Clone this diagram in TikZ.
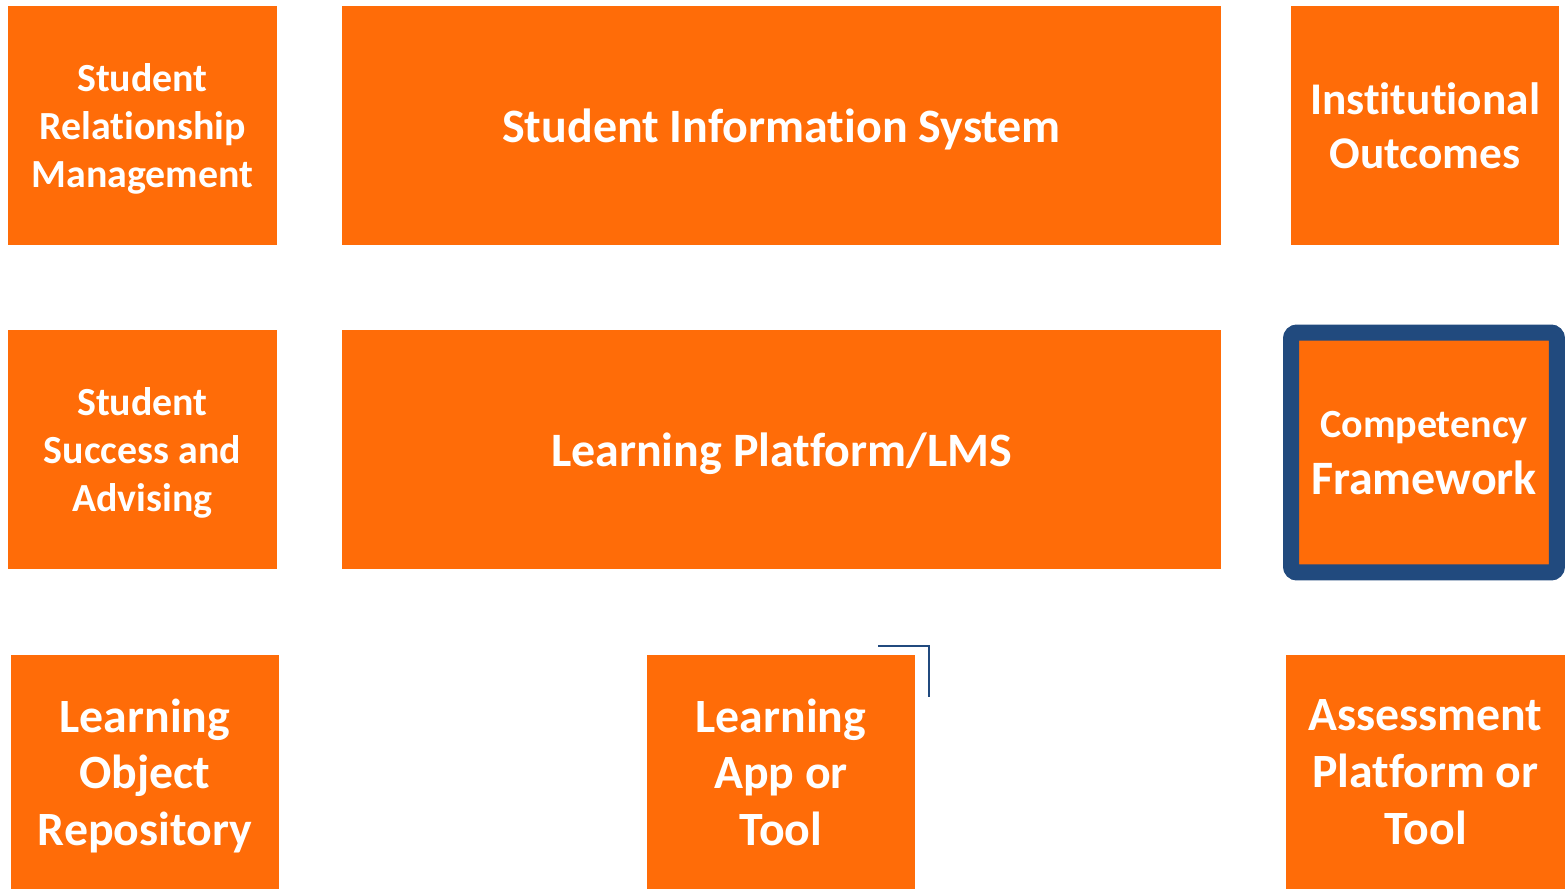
\documentclass[tikz,border=0pt]{standalone}
\usepackage{fontspec}
\setmainfont{Carlito}[Ligatures=NoCommon]
\usepackage{tikz}
\definecolor{boxorange}{RGB}{255,108,8}
\definecolor{frameblue}{RGB}{33,74,126}
\tikzstyle{system} = [rectangle, inner sep=0pt, text centered, align=center, fill=boxorange, text=white, text depth=0pt]
\tikzstyle{small} = [system, minimum width=5.38cm, minimum height=4.78cm, font=\bfseries\fontsize{22.7}{27.2}\selectfont]
\tikzstyle{wide} = [system, minimum width=17.58cm, minimum height=4.78cm, font=\bfseries\fontsize{27.3}{32}\selectfont]
\tikzstyle{tool} = [system, minimum width=5.36cm, minimum height=4.68cm, font=\bfseries\fontsize{27.2}{32.3}\selectfont]
\tikzstyle{corner} = [frameblue, line width=1.2pt]

\begin{document}
\begin{tikzpicture}[x = 0.02cm, y = -0.02cm]
  \useasboundingbox (0, 0) rectangle (1566, 890);
  \node (srm) [small] at (142.5, 125.5) {Student\\Relationship\\Management};
  \node (sis) [wide] at (781.5, 125.5) {Student Information System};
  \node (outcomes) [small, minimum width = 5.36cm, font = \bfseries\fontsize{25.8}{31.2}\selectfont] at (1425, 125.5) {Institutional\\Outcomes};
  \node (ssa) [small] at (142.5, 449.5) {Student\\Success and\\Advising};
  \node (lms) [wide] at (781.5, 449.5) {Learning Platform/LMS};
  \node (comp) [small, minimum width = 5.32cm, minimum height = 4.8cm, draw = frameblue, line width = 0.32cm, rounded corners = 0.12cm, font = \bfseries\fontsize{27.3}{32.3}\selectfont] at (1424, 452.5) {\fontsize{22.8}{32.3}\selectfont Competency\\Framework};
  \node (lor) [tool] at (145, 772) {Learning\\Object\\Repository};
  \node (app) [tool] at (781, 772) {Learning\\App or\\Tool};
  \node (assess) [tool, minimum width = 5.58cm] at (1425.5, 772) {Assessment\\Platform or\\Tool};
  \coordinate (tick) at (929, 646);
  \draw [corner] (878, 646) -- (tick) -- (929, 697);
\end{tikzpicture}
\end{document}
